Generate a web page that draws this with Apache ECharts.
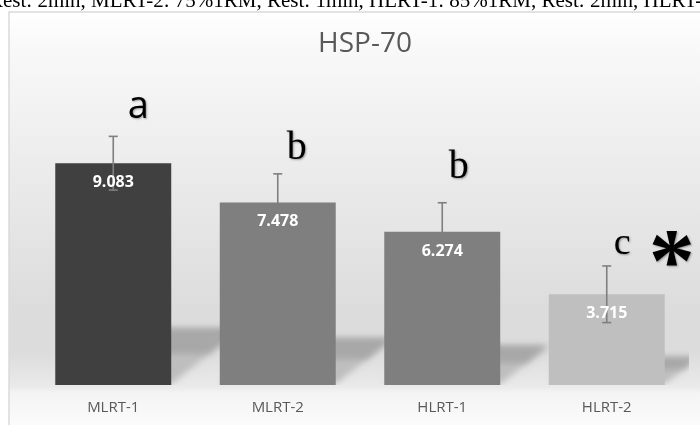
<!DOCTYPE html>
<html>
<head>
<meta charset="utf-8">
<script src="https://cdn.jsdelivr.net/npm/echarts@6/dist/echarts.min.js"></script>
<style>
html,body{margin:0;padding:0;background:#fff;}
#c{width:700px;height:425px;}
</style>
</head>
<body>
<div id="c"></div>
<script>
var headerText = 'Rest: 2min, MLRT-2: 75%1RM, Rest: 1min, HLRT-1: 85%1RM, Rest: 2min, HLRT-2: 85%1RM, Rest: 1min';
var titleText = 'HSP-70';
var categories = ['MLRT-1', 'MLRT-2', 'HLRT-1', 'HLRT-2'];
var means = [9.083, 7.478, 6.274, 3.715];
var errors = [1.10, 1.17, 1.19, 1.16];
var sigLetters = ['a', 'b', 'b', 'c'];
var starMark = '*';
var starIndex = 3;

var barColors = ['#404040', '#7f7f7f', '#7f7f7f', '#bfbfbf'];
// letter placement (pixel offsets from the error-bar top), fonts
var letterStyle = [
  {dx: 25, dy: -10, font: '"Open Sans", sans-serif', size: 38},
  {dx: 19, dy: -5, font: '"Liberation Serif", serif', size: 40},
  {dx: 16.5, dy: -15, font: '"Liberation Serif", serif', size: 40},
  {dx: 15.5, dy: -3, font: '"Liberation Serif", serif', size: 38}
];
var BAR_RATIO = 0.705;

var chart = echarts.init(document.getElementById('c'), null, {renderer: 'canvas'});

var OFF = 2000; // draw shadow polygons off-canvas, only their blurred shadow is shown

var option = {
  animation: false,
  backgroundColor: '#ffffff',
  graphic: [
    {
      type: 'rect', z: -10, silent: true,
      shape: {x: 9, y: 12, width: 705, height: 430},
      style: {
        fill: new echarts.graphic.LinearGradient(0, 0, 0, 1, [
          {offset: 0, color: '#ffffff'},
          {offset: 0.08, color: '#f9f9f9'},
          {offset: 0.35, color: '#ececec'},
          {offset: 0.70, color: '#dcdcdc'},
          {offset: 0.79, color: '#dcdcdc'},
          {offset: 0.87, color: '#eaeaea'},
          {offset: 0.885, color: '#f4f4f4'},
          {offset: 1, color: '#ffffff'}
        ]),
        stroke: '#dadada', lineWidth: 1.5
      }
    },
    {
      type: 'text', z: 10, silent: true,
      left: -11, top: -9,
      style: {
        text: headerText,
        font: '21px "Liberation Serif", "Times New Roman", serif',
        fill: '#000000'
      }
    }
  ],
  title: {
    text: titleText,
    left: 360, top: 25,
    textAlign: 'center',
    textStyle: {
      fontFamily: '"Open Sans", sans-serif',
      fontSize: 28, fontWeight: 'normal', color: '#595959'
    }
  },
  grid: {left: 31, right: 11, top: 92, bottom: 40, containLabel: false},
  xAxis: {
    type: 'category',
    data: categories,
    axisLine: {show: false},
    axisTick: {show: false},
    axisLabel: {
      margin: 15,
      fontFamily: '"Open Sans", sans-serif',
      fontSize: 15, color: '#595959'
    }
  },
  yAxis: {
    type: 'value', min: 0, max: 12,
    show: false,
    splitLine: {show: false}
  },
  series: [
    {
      type: 'custom',
      name: 'shadow',
      z: 1,
      silent: true,
      clip: true,
      data: means.map(function (v, i) { return [i, v]; }),
      renderItem: function (params, api) {
        var i = api.value(0);
        var base = api.coord([i, 0]);
        var topPt = api.coord([i, api.value(1)]);
        var bw = api.size([1, 0])[0] * BAR_RATIO;
        var h = base[1] - topPt[1];
        var sh = Math.max(h * 0.25, 27);
        var s = sh * 1.25;
        var xL = base[0] - bw / 2, xR = base[0] + bw / 2, y0 = base[1] - 1;
        var pts = [[xL, y0], [xR, y0], [xR + s, y0 - sh], [xL + s, y0 - sh]];
        var k = 0.55;
        var pts2 = [[xL + s * k, y0 - sh * k], [xR + s * k, y0 - sh * k], [xR + s, y0 - sh], [xL + s, y0 - sh]];
        function off(p) { return p.map(function (q) { return [q[0] + OFF, q[1]]; }); }
        return {
          type: 'group',
          children: [
            {
              type: 'polygon',
              shape: {points: off(pts)},
              style: {fill: '#888', shadowColor: 'rgba(190,190,190,1)', shadowBlur: 6, shadowOffsetX: -OFF}
            },
            {
              type: 'polygon',
              shape: {points: off(pts2)},
              style: {fill: '#888', shadowColor: 'rgba(160,160,160,0.75)', shadowBlur: 6, shadowOffsetX: -OFF}
            }
          ]
        };
      }
    },
    {
      type: 'bar',
      name: 'HSP-70',
      z: 2,
      barWidth: (BAR_RATIO * 100) + '%',
      data: means.map(function (v, i) {
        return {value: v, itemStyle: {color: barColors[i]}};
      }),
      label: {show: false}
    },
    {
      type: 'custom',
      name: 'error',
      z: 3,
      silent: true,
      clip: false,
      data: means.map(function (v, i) { return [i, v, errors[i]]; }),
      renderItem: function (params, api) {
        var i = api.value(0), m = api.value(1), e = api.value(2);
        var hi = api.coord([i, m + e]);
        var lo = api.coord([i, m - e]);
        var mid = api.coord([i, m]);
        var cap = 4.5;
        var st = {stroke: '#7f7f7f', lineWidth: 1.6};
        var ls = letterStyle[params.dataIndex];
        var children = [
          {type: 'line', shape: {x1: hi[0], y1: hi[1], x2: lo[0], y2: lo[1]}, style: st},
          {type: 'line', shape: {x1: hi[0] - cap, y1: hi[1], x2: hi[0] + cap, y2: hi[1]}, style: st},
          {type: 'line', shape: {x1: lo[0] - cap, y1: lo[1], x2: lo[0] + cap, y2: lo[1]}, style: st},
          {
            type: 'text',
            x: mid[0], y: mid[1] + 11.5,
            style: {
              text: m.toFixed(3),
              font: 'bold 16px "Open Sans", sans-serif',
              fill: '#ffffff',
              align: 'center', verticalAlign: 'top'
            }
          },
          {
            type: 'text',
            x: hi[0] + ls.dx, y: hi[1] + ls.dy,
            style: {
              text: sigLetters[params.dataIndex],
              font: ls.size + 'px ' + ls.font,
              fill: '#000000',
              align: 'center', verticalAlign: 'bottom',
              textShadowColor: 'rgba(0,0,0,0.35)', textShadowBlur: 2,
              textShadowOffsetX: 1, textShadowOffsetY: 1
            }
          }
        ];
        if (params.dataIndex === starIndex) {
          children.push({
            type: 'text',
            x: hi[0] + 65, y: hi[1] + 1,
            style: {
              text: starMark,
              font: 'bold 92px "Liberation Serif", serif',
              fill: '#000000',
              align: 'center', verticalAlign: 'middle',
              textShadowColor: 'rgba(0,0,0,0.35)', textShadowBlur: 2,
              textShadowOffsetX: 1, textShadowOffsetY: 1
            }
          });
        }
        return {type: 'group', children: children};
      }
    }
  ]
};
chart.setOption(option);
</script>
</body>
</html>
